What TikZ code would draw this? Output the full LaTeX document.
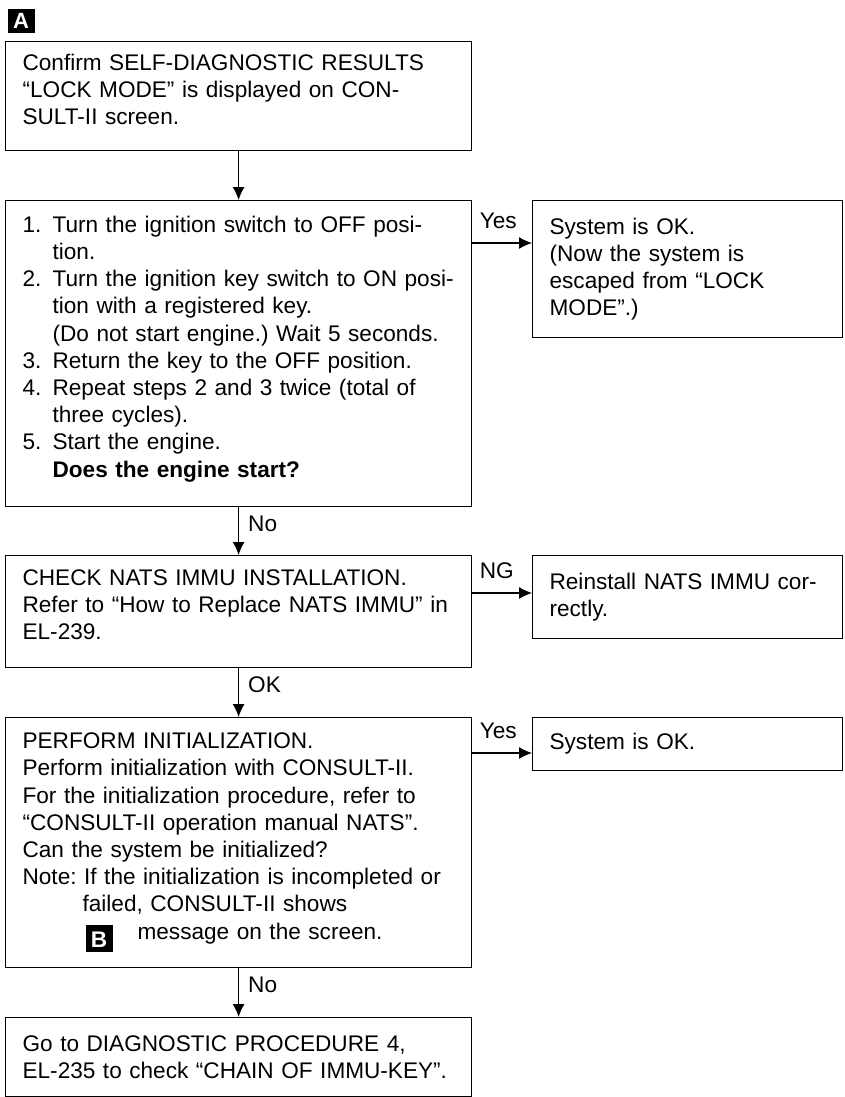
\documentclass[tikz,border=0pt]{standalone}
\usepackage{fontspec}
\setmainfont{Liberation Sans}
\usetikzlibrary{arrows.meta}
\frenchspacing
\newcommand{\body}{\fontsize{22.6}{27.2}\selectfont}
\newcommand{\stepno}[1]{\makebox[30pt][l]{#1}}
\newcommand{\gap}{\rule[-14pt]{0pt}{14pt}}
\newcommand{\tagbox}[1]{\raisebox{-8pt}{\setlength{\fboxsep}{0pt}\colorbox{black}{\makebox[27pt]{\rule[-5pt]{0pt}{27pt}\color{white}\bfseries #1}}}}
\tikzset{
	box/.style={draw,line width=1.2pt,anchor=north west,align=left,inner xsep=17pt,inner ysep=0pt,font=\body},
	leftbox/.style={box,text width=432pt},
	sidebox/.style={box,text width=276pt},
	lbl/.style={anchor=base west,inner sep=0pt,font=\body},
	tag/.style={fill=black,text=white,anchor=north west,minimum width=27pt,minimum height=24pt,inner sep=0pt,font=\fontsize{22}{22}\selectfont\bfseries}
}
\begin{document}
\begin{tikzpicture}[x=1pt,y=-1pt,>={Latex[length=13pt,width=12pt]},line width=1.2pt]
	\useasboundingbox (0,0) rectangle (845,1097);
	\node[tag] (tagA) at (7,8) {A};
	\node[leftbox,minimum height=109pt] (confirm) at (5,41) {Confirm SELF-DIAGNOSTIC RESULTS\\
		“LOCK MODE” is displayed on CON-\\
		SULT-II screen.\gap};
	\node[leftbox,minimum height=306pt] (steps) at (5,200) {\stepno{1.}Turn the ignition switch to OFF posi-\\
		\stepno{}tion.\\
		\stepno{2.}Turn the ignition key switch to ON posi-\\
		\stepno{}tion with a registered key.\\
		\stepno{}(Do not start engine.) Wait 5 seconds.\\
		\stepno{3.}Return the key to the OFF position.\\
		\stepno{4.}Repeat steps 2 and 3 twice (total of\\
		\stepno{}three cycles).\\
		\stepno{5.}Start the engine.\\
		\stepno{}\textbf{Does the engine start?}\gap};
	\node[leftbox,minimum height=112pt] (check) at (5,555) {CHECK NATS IMMU INSTALLATION.\\
		Refer to “How to Replace NATS IMMU” in\\
		EL-239.\gap};
	\node[leftbox,minimum height=250pt] (init) at (5,717) {PERFORM INITIALIZATION.\\
		Perform initialization with CONSULT-II.\\
		For the initialization procedure, refer to\\
		“CONSULT-II operation manual NATS”.\\
		Can the system be initialized?\\
		Note: If the initialization is incompleted or\\
		\hspace*{60pt}failed, CONSULT-II shows\\
		\hspace*{63pt}\tagbox{B}\hspace{25pt}message on the screen.};
	\node[leftbox,minimum height=79pt] (goto) at (5,1017) {Go to DIAGNOSTIC PROCEDURE 4,\\
		EL-235 to check “CHAIN OF IMMU-KEY”.};
	\node[sidebox,minimum height=137pt] (sysok) at (532,200) {System is OK.\\
		(Now the system is\\
		escaped from “LOCK\\
		MODE”.)};
	\node[sidebox,minimum height=83pt] (reinstall) at (532,555) {Reinstall NATS IMMU cor-\\
		rectly.};
	\node[sidebox,minimum height=53pt] (sysok2) at (532,717) {System is OK.};
	\coordinate (yes1) at ([yshift=-43pt]steps.north east);
	\coordinate (ng) at ([yshift=-38pt]check.north east);
	\coordinate (yes2) at ([yshift=-36pt]init.north east);
	\draw[->](confirm)--(steps);
	\draw[->](steps)--(check)node[lbl,pos=0,xshift=9pt,yshift=-24pt]{No};
	\draw[->](check)--(init)node[lbl,pos=0,xshift=9pt,yshift=-24pt]{OK};
	\draw[->](init)--(goto)node[lbl,pos=0,xshift=9pt,yshift=-24pt]{No};
	\draw[->](yes1)--(yes1 -| sysok.west)node[lbl,pos=0,xshift=7pt,yshift=15pt]{Yes};
	\draw[->](ng)--(ng -| reinstall.west)node[lbl,pos=0,xshift=7pt,yshift=15pt]{NG};
	\draw[->](yes2)--(yes2 -| sysok2.west)node[lbl,pos=0,xshift=7pt,yshift=15pt]{Yes};
\end{tikzpicture}
\end{document}
